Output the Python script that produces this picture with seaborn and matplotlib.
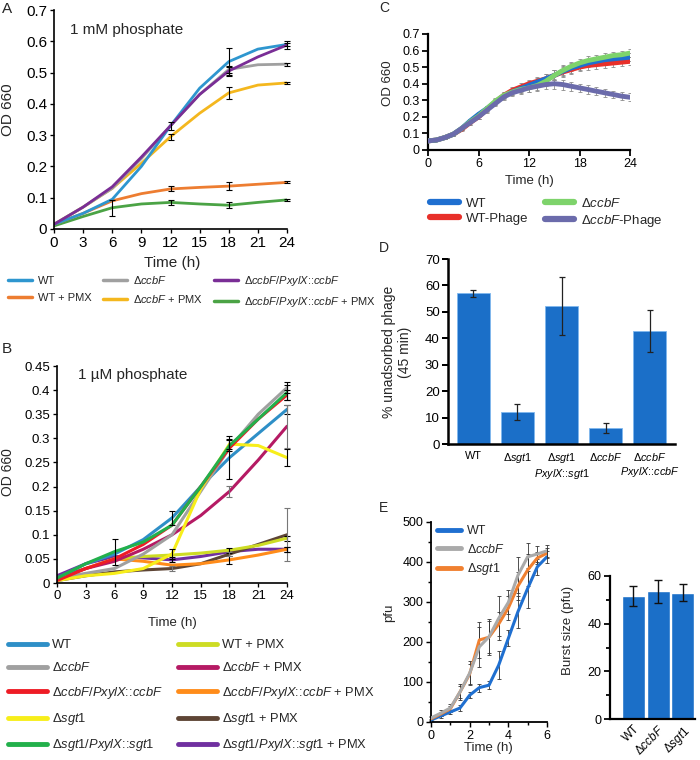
import numpy as np
import pandas as pd
import matplotlib
matplotlib.use('Agg')
import matplotlib.pyplot as plt
import seaborn as sns
from matplotlib.lines import Line2D
from matplotlib.ticker import MultipleLocator, FuncFormatter

sns.set_style('ticks')
plt.rcParams['font.family'] = ['Liberation Sans', 'DejaVu Sans']
plt.rcParams['mathtext.fontset'] = 'custom'
plt.rcParams['mathtext.rm'] = 'Liberation Sans'
plt.rcParams['mathtext.it'] = 'Liberation Sans:italic'
plt.rcParams['axes.edgecolor'] = 'black'
plt.rcParams['xtick.color'] = 'black'
plt.rcParams['ytick.color'] = 'black'


def it(s):
    return r'$\mathit{' + s + '}$'


# ---------------- data ----------------
# panel A: 1 mM phosphate
t_ab = [0, 3, 6, 9, 12, 15, 18, 21, 24]
t_err = [6, 12, 18, 24]
a_names = ['WT', 'Δ' + it('ccbF'), 'Δ' + it('ccbF/PxylX') + '::' + it('ccbF'),
           'WT + PMX', 'Δ' + it('ccbF') + ' + PMX',
           'Δ' + it('ccbF/PxylX') + '::' + it('ccbF') + ' + PMX']
a_wt = [0.015, 0.05, 0.095, 0.2, 0.33, 0.45, 0.535, 0.575, 0.59]
a_ccbf = [0.015, 0.07, 0.13, 0.225, 0.33, 0.43, 0.51, 0.525, 0.527]
a_comp = [0.015, 0.07, 0.135, 0.23, 0.33, 0.43, 0.505, 0.55, 0.588]
a_wt_pmx = [0.015, 0.05, 0.09, 0.113, 0.128, 0.133, 0.137, 0.143, 0.149]
a_ccbf_pmx = [0.015, 0.07, 0.13, 0.21, 0.295, 0.37, 0.435, 0.46, 0.467]
a_comp_pmx = [0.01, 0.04, 0.068, 0.08, 0.085, 0.08, 0.076, 0.085, 0.093]
a_err = [[0, 0.0, 0.045, 0.005], [0, 0, 0.01, 0.005], [0, 0.012, 0.012, 0.012],
         [0, 0.008, 0.012, 0.003], [0, 0.01, 0.02, 0.003], [0.025, 0.008, 0.01, 0.003]]
a_colors = ['#2E96CF', '#A0A0A0', '#7A2E96', '#ED7D31', '#F4B71E', '#4BA345']

# panel B: 1 uM phosphate
b_names = ['WT', 'Δ' + it('ccbF'), 'Δ' + it('ccbF/PxylX') + '::' + it('ccbF'),
           'Δ' + it('sgt1'), 'Δ' + it('sgt1/PxylX') + '::' + it('sgt1'),
           'WT + PMX', 'Δ' + it('ccbF') + ' + PMX',
           'Δ' + it('ccbF/PxylX') + '::' + it('ccbF') + ' + PMX',
           'Δ' + it('sgt1') + ' + PMX',
           'Δ' + it('sgt1/PxylX') + '::' + it('sgt1') + ' + PMX']
b_wt = [0.01, 0.04, 0.06, 0.09, 0.135, 0.2, 0.26, 0.31, 0.36]
b_ccbf = [0.01, 0.02, 0.03, 0.06, 0.1, 0.19, 0.28, 0.35, 0.405]
b_ccbf_comp = [0.005, 0.03, 0.05, 0.08, 0.12, 0.2, 0.28, 0.34, 0.39]
b_sgt1 = [0.005, 0.015, 0.02, 0.03, 0.06, 0.195, 0.288, 0.285, 0.26]
b_sgt1_comp = [0.01, 0.04, 0.065, 0.085, 0.12, 0.2, 0.285, 0.34, 0.395]
b_wt_pmx = [0.01, 0.03, 0.05, 0.055, 0.058, 0.062, 0.068, 0.078, 0.093]
b_ccbf_pmx = [0.01, 0.03, 0.045, 0.07, 0.1, 0.14, 0.19, 0.255, 0.325]
b_ccbf_comp_pmx = [0.01, 0.03, 0.05, 0.045, 0.037, 0.04, 0.048, 0.058, 0.07]
b_sgt1_pmx = [0.005, 0.015, 0.023, 0.027, 0.03, 0.04, 0.06, 0.08, 0.1]
b_sgt1_comp_pmx = [0.015, 0.04, 0.055, 0.052, 0.048, 0.055, 0.065, 0.07, 0.07]
b_err = [[0, 0.015, 0.045, 0.01], [0, 0, 0, 0.012], [0, 0, 0, 0.01],
         [0, 0.01, 0.01, 0.017], [0.027, 0, 0.012, 0.015], [0, 0, 0.005, 0.005],
         [0, 0, 0.012, 0.045], [0, 0, 0.008, 0.005], [0, 0.005, 0.005, 0.055],
         [0, 0.005, 0, 0.005]]
b_colors = ['#2E8FC7', '#A0A0A0', '#EE1C25', '#F7EE1A', '#22B04B',
            '#CDDC24', '#B51A64', '#FF8C1A', '#5E4535', '#7030A0']
b_ecolors = ['k', 'k', 'k', 'k', 'k', 'k', '#777777', 'k', '#777777', 'k']

# panel C: phage infection growth
t_c = list(range(25))
c_names = ['WT', 'WT-Phage', 'Δ' + it('ccbF'), 'Δ' + it('ccbF') + '-Phage']
c_wt = [0.055, 0.06, 0.075, 0.095, 0.13, 0.175, 0.215, 0.25, 0.29, 0.325, 0.35, 0.37, 0.39,
        0.41, 0.43, 0.45, 0.475, 0.495, 0.51, 0.525, 0.535, 0.545, 0.55, 0.555, 0.56]
c_wt_ph = [0.055, 0.06, 0.075, 0.095, 0.125, 0.165, 0.2, 0.245, 0.29, 0.33, 0.36, 0.38, 0.4,
           0.415, 0.43, 0.45, 0.47, 0.485, 0.5, 0.51, 0.515, 0.52, 0.525, 0.53, 0.535]
c_ccbf = [0.055, 0.06, 0.075, 0.095, 0.13, 0.17, 0.205, 0.25, 0.295, 0.33, 0.35, 0.365, 0.375,
          0.39, 0.415, 0.45, 0.48, 0.505, 0.525, 0.54, 0.55, 0.56, 0.57, 0.575, 0.585]
c_ccbf_ph = [0.055, 0.06, 0.075, 0.095, 0.13, 0.165, 0.2, 0.24, 0.28, 0.32, 0.345, 0.36, 0.375,
             0.385, 0.395, 0.4, 0.395, 0.385, 0.375, 0.365, 0.355, 0.345, 0.335, 0.325, 0.318]
c_err = [0.006, 0.006, 0.007, 0.008, 0.01, 0.012, 0.015, 0.015, 0.016, 0.018, 0.02, 0.022, 0.024,
         0.026, 0.028, 0.03, 0.03, 0.028, 0.026, 0.025, 0.025, 0.024, 0.024, 0.024, 0.024]
c_colors = ['#1F6FD0', '#E8302A', '#7ED36B', '#6B6BAB']

# panel D: unadsorbed phage
d_labels = ['WT', 'Δ' + it('sgt1'), 'Δ' + it('sgt1') + '\n' + it('PxylX') + '::' + it('sgt1'),
            'Δ' + it('ccbF'), 'Δ' + it('ccbF') + '\n' + it('PxylX') + '::' + it('ccbF')]
d_vals = [57.0, 12.0, 52.3, 6.0, 42.7]
d_err = [1.3, 3.0, 11.0, 1.8, 8.0]

# panel E: one-step growth and burst size
t_e = [0, 0.5, 1, 1.5, 2, 2.5, 3, 3.5, 4, 4.5, 5, 5.5, 6]
e_names = ['WT', 'Δ' + it('ccbF'), 'Δ' + it('sgt1')]
e_wt = [5, 15, 25, 35, 67, 86, 92, 142, 209, 276, 334, 388, 413]
e_ccbf = [10, 22, 35, 75, 122, 188, 213, 259, 299, 367, 413, 420, 428]
e_sgt1 = [8, 20, 33, 75, 120, 205, 212, 245, 285, 340, 380, 410, 422]
e_err = [[3, 5, 5, 8, 8, 10, 10, 35, 20, 40, 50, 20, 15],
         [5, 8, 10, 20, 30, 50, 45, 55, 30, 45, 35, 20, 15],
         [5, 5, 8, 15, 25, 45, 40, 30, 30, 35, 40, 15, 12]]
e_colors = ['#1F6FD0', '#AAAAAA', '#F08030']
burst_labels = ['WT', 'Δ' + it('ccbF'), 'Δ' + it('sgt1')]
burst_vals = [51.5, 53.5, 53.0]
burst_err = [4.2, 4.8, 3.5]

bar_color = '#1B6FC8'

# ---------------- figure ----------------
W, H = 700, 760
fig = plt.figure(figsize=(7, 7.6), dpi=100)


def box(l, t, r, b):
    return fig.add_axes([l / W, 1 - b / H, (r - l) / W, (b - t) / H])


def ftext(x, y, s, **kw):
    kw.setdefault('ha', 'center')
    kw.setdefault('va', 'center')
    fig.text(x / W, 1 - y / H, s, **kw)


def style(ax, lw=1.2, size=9, length=3):
    sns.despine(ax=ax)
    for s in ['left', 'bottom']:
        ax.spines[s].set_linewidth(lw)
    ax.tick_params(which='both', direction='out', width=lw * 0.8, labelsize=size, pad=2)
    ax.tick_params(which='major', length=length)
    ax.tick_params(which='minor', length=length * 0.7)


fmt = FuncFormatter(lambda v, p: '%g' % round(v, 3))

# ---- A ----
axA = box(54, 10, 287, 229)
a_vals = [a_wt, a_ccbf, a_comp, a_wt_pmx, a_ccbf_pmx, a_comp_pmx]
for i in [5, 3, 4, 1, 0, 2]:
    sns.lineplot(x=t_ab, y=a_vals[i], color=a_colors[i], lw=2, ax=axA, legend=False)
for i in range(6):
    y = [a_vals[i][t_ab.index(t)] for t in t_err]
    e = np.array(a_err[i])
    m = e > 0
    axA.errorbar(np.array(t_err)[m], np.array(y)[m], yerr=e[m], fmt='none',
                 ecolor='k', elinewidth=0.8, capsize=2, capthick=0.8, zorder=5, clip_on=False)
axA.set_xlim(0, 24)
axA.set_ylim(0, 0.7)
axA.set_xticks(range(0, 25, 3))
axA.set_yticks(np.arange(0, 0.71, 0.1))
axA.yaxis.set_major_formatter(fmt)
axA.set_xlabel('')
axA.set_ylabel('')
style(axA, lw=1.2, size=11)
axA.text(0.07, 0.94, '1 mM phosphate', transform=axA.transAxes, fontsize=11, va='top')
ftext(7, 9, 'A', fontsize=11)
ftext(8, 110, 'OD 660', rotation=90, fontsize=11)
ftext(172, 263, 'Time (h)', fontsize=11)
hA = [Line2D([], [], color=a_colors[i], lw=2.5) for i in [0, 3, 1, 4, 2, 5]]
lA = [a_names[i] for i in [0, 3, 1, 4, 2, 5]]
fig.legend(hA, lA, ncol=3, loc='upper left', bbox_to_anchor=(8 / W, 1 - 274 / H),
           frameon=False, fontsize=8, handlelength=2.2, handletextpad=0.5,
           columnspacing=1.0, labelspacing=0.6, borderpad=0, borderaxespad=0)

# ---- B ----
axB = box(57, 366, 287, 583)
b_vals = [b_wt, b_ccbf, b_ccbf_comp, b_sgt1, b_sgt1_comp,
          b_wt_pmx, b_ccbf_pmx, b_ccbf_comp_pmx, b_sgt1_pmx, b_sgt1_comp_pmx]
for i in [9, 8, 7, 5, 6, 0, 1, 3, 2, 4]:
    sns.lineplot(x=t_ab, y=b_vals[i], color=b_colors[i], lw=2.2, ax=axB, legend=False)
for i in range(10):
    y = [b_vals[i][t_ab.index(t)] for t in t_err]
    e = np.array(b_err[i])
    m = e > 0
    axB.errorbar(np.array(t_err)[m], np.array(y)[m], yerr=e[m], fmt='none',
                 ecolor=b_ecolors[i], elinewidth=0.8, capsize=2, capthick=0.8, zorder=5,
                 clip_on=False)
axB.set_xlim(0, 24)
axB.set_ylim(0, 0.45)
axB.set_xticks(range(0, 25, 3))
axB.set_yticks(np.arange(0, 0.451, 0.05))
axB.yaxis.set_major_formatter(fmt)
axB.set_xlabel('')
axB.set_ylabel('')
style(axB, lw=1.2, size=9.5)
axB.text(0.09, 0.99, '1 µM phosphate', transform=axB.transAxes, fontsize=11, va='top')
ftext(7, 349, 'B', fontsize=11)
ftext(8, 472, 'OD 660', rotation=90, fontsize=10)
ftext(172, 623, 'Time (h)', fontsize=9.5)
hB = [Line2D([], [], color=c, lw=3.5) for c in b_colors]
fig.legend(hB, b_names, ncol=2, loc='upper left', bbox_to_anchor=(8 / W, 1 - 639 / H),
           frameon=False, fontsize=9.3, handlelength=3.0, handletextpad=0.4,
           columnspacing=1.2, labelspacing=0.8, borderpad=0, borderaxespad=0)

# ---- C ----
axC = box(428, 34, 630, 150)
c_vals = [c_wt, c_wt_ph, c_ccbf, c_ccbf_ph]
for i in range(4):
    axC.errorbar(t_c, c_vals[i], yerr=c_err, fmt='none', ecolor='#8C8C8C',
                 elinewidth=0.6, capsize=1.5, capthick=0.6, zorder=1)
for i in [1, 0, 2, 3]:
    sns.lineplot(x=t_c, y=c_vals[i], color=c_colors[i], lw=3.5, ax=axC, legend=False, zorder=3)
axC.set_xlim(0, 24)
axC.set_ylim(0, 0.7)
axC.set_xticks(range(0, 25, 6))
axC.set_yticks(np.arange(0, 0.71, 0.1))
axC.yaxis.set_major_formatter(fmt)
axC.set_xlabel('')
axC.set_ylabel('')
style(axC, lw=1.6, size=9, length=4)
ftext(384, 8, 'C', fontsize=10)
ftext(388, 83, 'OD 660', rotation=90, fontsize=9.5)
ftext(529, 181, 'Time (h)', fontsize=9.5)
hC = [Line2D([], [], color=c_colors[i], lw=4.5) for i in [0, 1, 2, 3]]
fig.legend(hC, c_names, ncol=2, loc='upper left', bbox_to_anchor=(430 / W, 1 - 197 / H),
           frameon=False, fontsize=9.5, handlelength=2.2, handletextpad=0.5,
           columnspacing=1.3, labelspacing=0.2, borderpad=0, borderaxespad=0)

# ---- D ----
axD = box(448, 259, 675, 444)
sns.barplot(x=d_labels, y=d_vals, color=bar_color, width=0.75, ax=axD,
            edgecolor='#7FB8EE', linewidth=0.6, errorbar=None, saturation=1)
axD.errorbar(range(5), d_vals, yerr=d_err, fmt='none', ecolor='#222222',
             elinewidth=0.9, capsize=2.5, capthick=0.9)
axD.set_xlim(-0.57, 4.57)
axD.set_ylim(0, 70)
axD.set_yticks(range(0, 71, 10))
style(axD, lw=1.8, size=9.5, length=4)
axD.tick_params(axis='x', length=0, labelsize=7.8, pad=5)
ftext(384, 248, 'D', fontsize=10)
ftext(397, 352, '% unadsorbed phage\n(45 min)', rotation=90, fontsize=10, linespacing=1.1)

# ---- E left ----
axE = box(431, 522, 547, 722)
e_vals = [e_wt, e_ccbf, e_sgt1]
for i in range(3):
    axE.errorbar(t_e, e_vals[i], yerr=e_err[i], fmt='none', ecolor='#333333',
                 elinewidth=0.6, capsize=1.2, capthick=0.6, zorder=1, clip_on=False)
for i in [0, 2, 1]:
    sns.lineplot(x=t_e, y=e_vals[i], color=e_colors[i], lw=2.2, ax=axE, legend=False, zorder=3)
axE.set_xlim(0, 6)
axE.set_ylim(0, 500)
axE.set_xticks([0, 2, 4, 6])
axE.xaxis.set_minor_locator(MultipleLocator(1))
axE.set_yticks(range(0, 501, 100))
axE.yaxis.set_minor_locator(MultipleLocator(50))
axE.set_xlabel('')
axE.set_ylabel('')
style(axE, lw=1.3, size=9, length=3.5)
hE = [Line2D([], [], color=c, lw=3.5) for c in e_colors]
axE.legend(hE, e_names, loc='upper left', bbox_to_anchor=(0.05, 0.985), frameon=False,
           fontsize=9, handlelength=1.9, handletextpad=0.5, labelspacing=0.45,
           borderpad=0, borderaxespad=0)
ftext(384, 508, 'E', fontsize=10)
ftext(389, 613, 'pfu', rotation=90, fontsize=9.5)
ftext(488, 748, 'Time (h)', fontsize=9.5)

# ---- E right ----
axF = box(610, 576, 695, 719)
sns.barplot(x=burst_labels, y=burst_vals, color=bar_color, width=0.93, ax=axF,
            edgecolor='white', linewidth=1, errorbar=None, saturation=1)
axF.errorbar(range(3), burst_vals, yerr=burst_err, fmt='none', ecolor='#111111',
             elinewidth=1.0, capsize=3, capthick=1.0)
axF.set_xlim(-0.95, 2.5)
axF.set_ylim(0, 60)
axF.set_yticks([0, 20, 40, 60])
axF.yaxis.set_minor_locator(MultipleLocator(10))
style(axF, lw=1.6, size=9, length=4)
axF.tick_params(axis='x', length=0, labelsize=8.5, pad=3)
for lab in axF.get_xticklabels():
    lab.set_rotation(45)
    lab.set_ha('right')
    lab.set_rotation_mode('anchor')
ftext(568, 630, 'Burst size (pfu)', rotation=90, fontsize=9.5)

fig.savefig('out.png', dpi=100)
